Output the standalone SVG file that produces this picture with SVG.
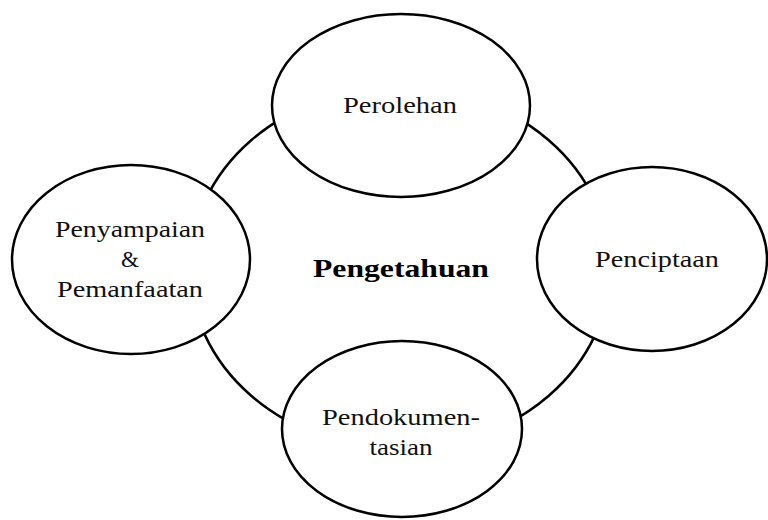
<svg xmlns="http://www.w3.org/2000/svg" width="768" height="520" viewBox="0 0 768 520">
  <style>
    .node { fill: #ffffff; stroke: #000000; stroke-width: 2.5; }
    .ring { fill: none; stroke: #000000; stroke-width: 2.5; }
    .lbl { font-family: "Liberation Serif", "Times New Roman", serif; font-size: 23px; fill: #111111; text-anchor: middle; }
    .title { font-family: "Liberation Serif", "Times New Roman", serif; font-size: 26px; font-weight: bold; fill: #000000; text-anchor: middle; }
  </style>
  <rect x="0" y="0" width="768" height="520" fill="#ffffff"/>
  <g id="connectors">
    <ellipse class="ring" cx="400" cy="268" rx="210" ry="181"/>
  </g>
  <g id="center">
    <text class="title" x="401" y="277" textLength="176" lengthAdjust="spacingAndGlyphs">Pengetahuan</text>
  </g>
  <g id="perolehan">
    <ellipse class="node" cx="401" cy="105.5" rx="129" ry="91.5"/>
    <text class="lbl" x="400" y="113" textLength="114" lengthAdjust="spacingAndGlyphs">Perolehan</text>
  </g>
  <g id="penciptaan">
    <ellipse class="node" cx="652" cy="259" rx="115" ry="92"/>
    <text class="lbl" x="657" y="267" textLength="124" lengthAdjust="spacingAndGlyphs">Penciptaan</text>
  </g>
  <g id="pendokumentasian">
    <ellipse class="node" cx="402" cy="429" rx="120" ry="88"/>
    <text class="lbl" x="401" y="425" textLength="158" lengthAdjust="spacingAndGlyphs">Pendokumen-</text>
    <text class="lbl" x="401" y="455" textLength="63" lengthAdjust="spacingAndGlyphs">tasian</text>
  </g>
  <g id="penyampaian">
    <ellipse class="node" cx="131" cy="259.5" rx="119" ry="94.5"/>
    <text class="lbl" x="130" y="237" textLength="150" lengthAdjust="spacingAndGlyphs">Penyampaian</text>
    <text class="lbl" x="130" y="267">&amp;</text>
    <text class="lbl" x="130" y="297" textLength="146" lengthAdjust="spacingAndGlyphs">Pemanfaatan</text>
  </g>
</svg>
